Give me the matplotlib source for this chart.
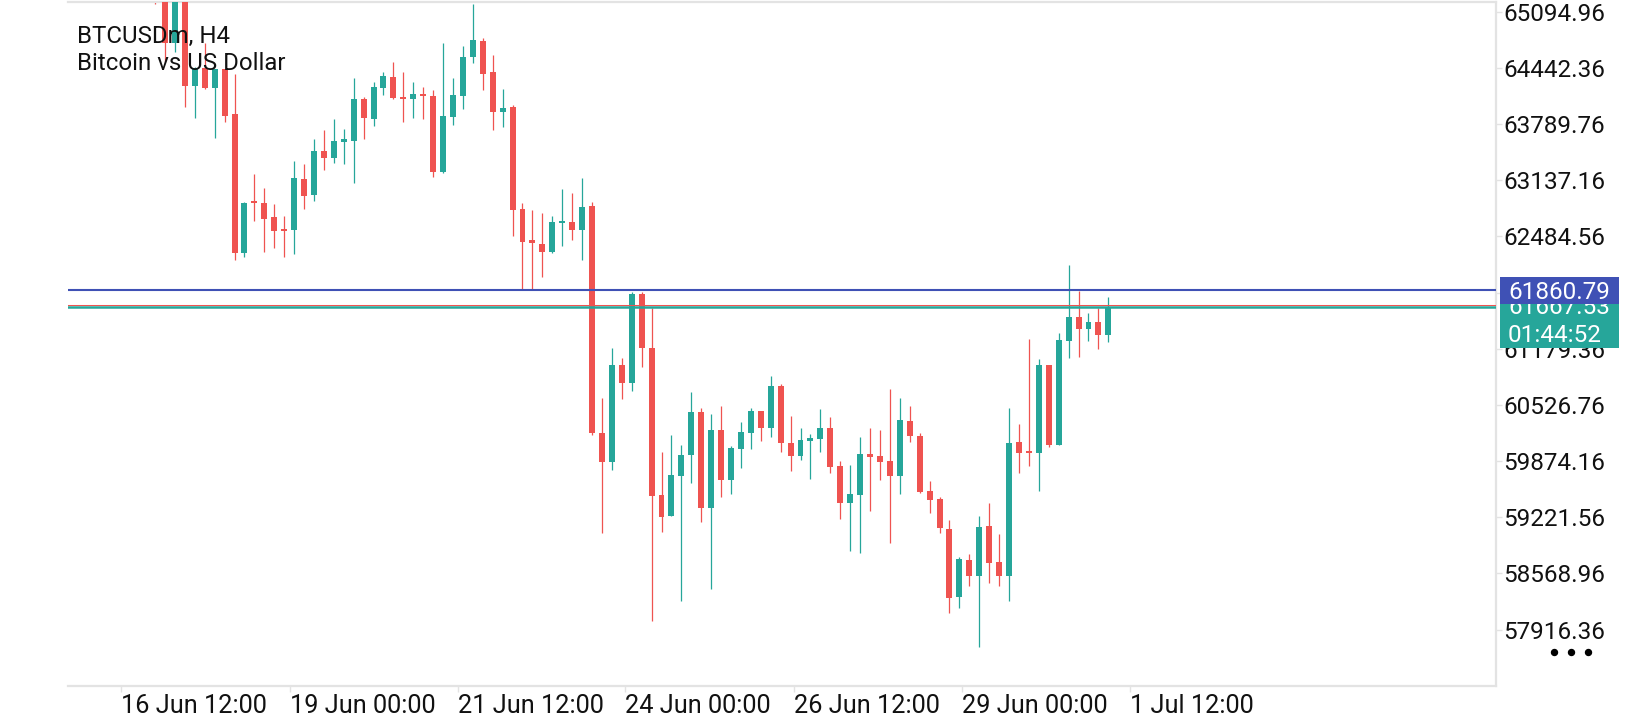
import matplotlib
matplotlib.use("Agg")
import matplotlib.pyplot as plt
from matplotlib.patches import Rectangle
from matplotlib.lines import Line2D
from matplotlib.transforms import IdentityTransform
import numpy as np

#%% Data (BTCUSDm, H4)
first_index = -1
opens = [65450, 65380, 64731, 65300, 64232, 64441, 64208, 64429, 63906, 62291,
         62884, 62872, 62709, 62570, 62558, 63151, 62965, 63476, 63395, 63581,
         63593, 64081, 63848, 64208, 64336, 64104, 64081, 64139, 64116, 63232,
         63871, 64116, 64569, 64755, 64394, 63930, 63988, 62802, 62442, 62396,
         62303, 62640, 62651, 62558, 62837, 60200, 59863, 60990, 60781, 61815,
         61187, 59479, 59235, 59700, 59944, 60444, 59328, 60234, 59653, 60014,
         60200, 60455, 60258, 60746, 60083, 59932, 60107, 60130, 60258, 59816,
         59386, 59479, 59956, 59932, 59874, 59700, 60339, 60165, 59526, 59433,
         59084, 58294, 58724, 58538, 59119, 58701, 58538, 60095, 59979, 59967,
         60990, 60060, 61269, 61547, 61408, 61489, 61338]
highs = [65600, 65420, 65350, 65330, 64450, 64731, 64435, 64435, 64371, 62880,
         63209, 63046, 62861, 62721, 63360, 63325, 63616, 63720, 63848, 63732,
         64325, 64104, 64278, 64394, 64511, 64394, 64278, 64220, 64185, 64731,
         64325, 64696, 65185, 64789, 64592, 64197, 64011, 62872, 62791, 62756,
         62721, 63035, 62988, 63163, 62884, 60606, 61187, 61071, 61838, 61838,
         61652, 59979, 60176, 60060, 60676, 60490, 60420, 60513, 60049, 60327,
         60490, 60460, 60862, 60769, 60397, 60258, 60188, 60478, 60385, 59874,
         59828, 60153, 60258, 60234, 60711, 60606, 60513, 60200, 59642, 59456,
         59189, 58759, 58793, 59235, 59386, 59026, 60490, 60304, 61292, 61059,
         60995, 61362, 62152, 61849, 61594, 61652, 61780]
lows = [65180, 64511, 64627, 63988, 63860, 64197, 63627, 63813, 62210, 62245,
        62663, 62303, 62349, 62245, 62280, 62802, 62895, 63256, 63337, 63325,
        63105, 63616, 63767, 64127, 64081, 63813, 63860, 63848, 63174, 63221,
        63779, 63964, 64499, 64185, 63720, 63755, 62489, 61873, 61861, 62012,
        62291, 62373, 62442, 62210, 60176, 59038, 59770, 60595, 60688, 60967,
        58015, 59049, 59235, 58247, 59619, 59165, 58387, 59456, 59491, 59793,
        60014, 60107, 60153, 59979, 59758, 59886, 59665, 59979, 59735, 59200,
        58828, 58805, 59293, 59653, 58921, 59491, 60095, 59502, 59270, 59038,
        58108, 58166, 58422, 57713, 58457, 58422, 58247, 59735, 59816, 59526,
        60037, 60060, 61071, 61083, 61269, 61176, 61257]
closes = [65300, 64731, 65300, 64232, 64441, 64208, 64429, 63883, 62291, 62872,
          62872, 62686, 62547, 62547, 63163, 62953, 63476, 63395, 63593, 63616,
          64081, 63860, 64220, 64348, 64092, 64081, 64139, 64116, 63232, 63883,
          64127, 64569, 64766, 64371, 63930, 63976, 62791, 62419, 62407, 62303,
          62651, 62651, 62558, 62826, 60200, 59863, 60990, 60781, 61815, 61187,
          59467, 59223, 59711, 59944, 60444, 59328, 60234, 59653, 60025, 60211,
          60455, 60258, 60746, 60083, 59932, 60118, 60142, 60258, 59804, 59386,
          59491, 59956, 59921, 59863, 59700, 60351, 60165, 59514, 59421, 59096,
          58282, 58735, 58538, 59107, 58689, 58538, 60083, 59967, 59967, 60990,
          60060, 61280, 61547, 61408, 61489, 61338, 61667.53]

price_ticks = [65094.96, 64442.36, 63789.76, 63137.16, 62484.56, 61831.96,
               61179.36, 60526.76, 59874.16, 59221.56, 58568.96, 57916.36]
time_ticks = [-4.43, 12.59, 29.51, 46.32, 63.34, 80.26, 97.18]
time_labels = ["16 Jun 12:00", "19 Jun 00:00", "21 Jun 12:00", "24 Jun 00:00",
               "26 Jun 12:00", "29 Jun 00:00", "1 Jul 12:00"]

level_price = 61860.79
bid_price = 61667.53
ask_price = 61687.53
countdown = "01:44:52"
symbol = "BTCUSDm, H4"
description = "Bitcoin vs US Dollar"

#%% Styles
UP = '#26A69A'
DOWN = '#EF5350'
BLUE = '#3F51B5'
FRAME = '#E3E3E3'
W, H = 1640, 720

fig = plt.figure(figsize=(W/100, H/100), dpi=100)
fig.patch.set_facecolor('white')
ax = fig.add_axes([68/W, 1-686/H, (1496-68)/W, (686-2)/H])

o = np.array(opens, dtype=float)
h = np.array(highs, dtype=float)
l = np.array(lows, dtype=float)
c = np.array(closes, dtype=float)
x = np.arange(first_index, first_index + len(o))
col = np.where(c >= o, UP, DOWN)

ax.vlines(x, l, h, colors=col, linewidth=0.9, zorder=2)
body = np.maximum(np.abs(c - o), 23)
ax.bar(x, body, bottom=np.minimum(o, c), width=0.6, color=col, linewidth=0, zorder=3)

ax.axhline(level_price, color=BLUE, linewidth=1.5, zorder=4)
ax.axhline(ask_price, color=DOWN, linewidth=0.75, zorder=4)
ax.axhline(bid_price, color=UP, linewidth=1.8, zorder=5)

ax.set_xlim(-9.77, 134.04)
ax.set_ylim(57260, 65208)

for s in ['top', 'bottom', 'right']:
    ax.spines[s].set_color(FRAME)
    ax.spines[s].set_linewidth(1.6)
ax.spines['left'].set_visible(False)

ax.yaxis.tick_right()
ax.set_yticks(price_ticks)
ax.set_yticklabels([f'{p:.2f}' for p in price_ticks])
ax.tick_params(axis='y', which='both', length=4, width=1, color=FRAME, pad=1,
               labelsize=17.5, labelcolor='#111111', left=False)
for t in ax.get_yticklabels():
    t.set_fontfamily('Roboto')

ax.set_xticks(time_ticks)
ax.set_xticklabels(time_labels)
ax.tick_params(axis='x', length=4, width=1, color=FRAME, pad=2,
               labelsize=18.2, labelcolor='#111111')
for t in ax.get_xticklabels():
    t.set_fontfamily('Roboto')
    t.set_horizontalalignment('left')

# title block
fig.text(77/W, 1-43/H, symbol, fontsize=17.3, family='Roboto', color='#111111', va='baseline')
fig.text(77/W, 1-70/H, description, fontsize=17.3, family='Roboto', color='#111111', va='baseline')

#%% Price boxes on the right scale (pixel coordinates)
fig.canvas.draw()
yl = ax.transData.transform((0, level_price))[1]
yb = ax.transData.transform((0, bid_price))[1]

green = Rectangle((1500, yl - 13 - 45), 119, 45, transform=IdentityTransform(),
                  facecolor=UP, edgecolor='none', zorder=5)
fig.patches.append(green)
fig.text(1508, yb - 1, f'{bid_price:.2f}', transform=IdentityTransform(), color='white',
         fontsize=17.5, family='Roboto', va='center', ha='left', zorder=6)
fig.text(1508, yb - 29, countdown, transform=IdentityTransform(), color='white',
         fontsize=17.5, family='Roboto', va='center', ha='left', zorder=6)

blue = Rectangle((1500, yl - 14), 119, 27, transform=IdentityTransform(),
                 facecolor=BLUE, edgecolor='none', zorder=7)
fig.patches.append(blue)
fig.text(1508, yl - 2, f'{level_price:.2f}', transform=IdentityTransform(), color='white',
         fontsize=17.5, family='Roboto', va='center', ha='left', zorder=8)

# "more" dots
dots = Line2D([1554, 1571, 1588], [H-652]*3, transform=IdentityTransform(), linestyle='none',
              marker='o', markersize=4.3, color='black')
fig.lines.append(dots)

plt.savefig('out.png', dpi=100, facecolor='white')
